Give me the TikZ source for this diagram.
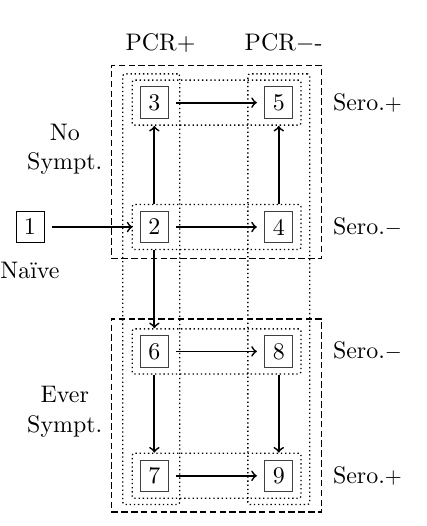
\documentclass[tikz,border=0pt,11pt]{standalone}
\usepackage{fontspec}
\tikzset{>=to}
\usetikzlibrary{positioning,fit}

\begin{document}
\begin{tikzpicture}[
    state/.style={draw=black!75, minimum width=0.45cm, minimum height=0.51cm, inner sep=0pt},
    rowbox/.style={draw, semithick, dash pattern=on 0.6pt off 1.3pt, rounded corners=1pt, inner xsep=0.125cm, inner ysep=0.1cm},
    colbox/.style={draw, semithick, dash pattern=on 0.6pt off 1.3pt, rounded corners=1pt, inner xsep=0.265cm, inner ysep=0.2cm},
    groupbox/.style={draw, dash pattern=on 3pt off 1.5pt, semithick, inner xsep=0.46cm, inner ysep=0.29cm},
    hop/.style={->, thick, shorten <=0.12cm, shorten >=0.12cm}]
      \useasboundingbox (-0.482,-4.807) rectangle (6.383,3.65);
      \node[draw, minimum width=0.45cm, minimum height=0.51cm, inner sep=0pt] (n1) {1};
      \node[state, right of=n1, node distance=2cm] (n2) {2};
      \node[state, above of=n2, node distance=2cm] (n3) {3};
      \node[state, right of=n2, node distance=2cm] (n4) {4};
      \node[state, above of=n4, node distance=2cm] (n5) {5};
      \node[state, below of=n2, node distance=2cm] (n6) {6};
      \node[state, right of=n6, node distance=2cm] (n8) {8};
      \node[state, below of=n6, node distance=2cm] (n7) {7};
      \node[state, right of=n7, node distance=2cm] (n9) {9};
      % dotted rows and columns
      \node[rowbox, fit=(n3)(n5)] (r35) {};
      \node[rowbox, fit=(n2)(n4)] (r24) {};
      \node[rowbox, fit=(n6)(n8)] (r68) {};
      \node[rowbox, fit=(n7)(n9)] (r79) {};
      \node[colbox, fit=(n3)(n7), inner xsep=0.225cm, xshift=-0.05cm] (cpos) {};
      \node[colbox, fit=(n5)(n9)] (cneg) {};
      % dashed groups
      \node[groupbox, fit=(n3)(n4), yshift=0.05cm] (gno) {};
      \node[groupbox, fit=(n6)(n9), yshift=-0.03cm] (gever) {};
      % labels
      \node[anchor=base west] (pcrpos) at ([xshift=-0.08cm, yshift=0.37cm]cpos.north west) {PCR$+$};
      \node[anchor=base west] (pcrneg) at ([xshift=-0.175cm, yshift=0.37cm]cneg.north west) {PCR$-$-};
      \node[anchor=west] (s35) at ([xshift=0.035cm]gno.east |- n5) {Sero.{\small$+$}};
      \node[anchor=west] (s24) at ([xshift=0.035cm]gno.east |- n4) {Sero.{\small$-$}};
      \node[anchor=west] (s68) at ([xshift=0.035cm]gever.east |- n8) {Sero.{\small$-$}};
      \node[anchor=west] (s79) at ([xshift=0.035cm]gever.east |- n9) {Sero.{\small$+$}};
      \node[align=center] (nosym) at (0.56,1.25) {No\\Sympt.};
      \node[align=center] (eversym) at (0.56,-2.97) {Ever\\Sympt.};
      \node[below=0.17cm of n1] (naive) {Naïve};
      % transitions
      \draw[hop] (n1) -- (n2);
      \draw[hop] (n3) -- (n5);
      \draw[hop] (n2) -- (n4);
      \draw[hop] (n6) -- (n8);
      \draw[hop] (n7) -- (n9);
      \draw[->, thick] (r24.north -| n2) -- (r35.south -| n3);
      \draw[->, thick] (r24.north -| n4) -- (r35.south -| n5);
      \draw[->, thick] (r24.south -| n2) -- (r68.north -| n6);
      \draw[->, thick] (r68.south -| n6) -- (r79.north -| n7);
      \draw[->, thick] (r68.south -| n8) -- (r79.north -| n9);
\end{tikzpicture}
\end{document}
